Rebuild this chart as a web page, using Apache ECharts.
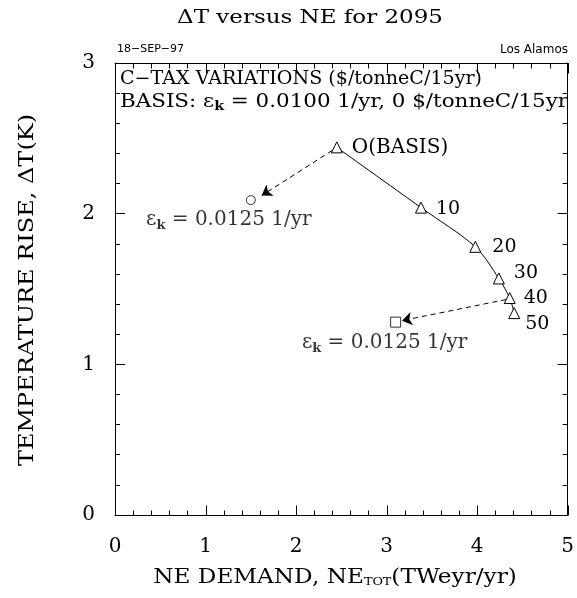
<!DOCTYPE html>
<html>
<head>
<meta charset="utf-8">
<script src="https://cdn.jsdelivr.net/npm/echarts@6/dist/echarts.min.js"></script>
<style>
  html, body { margin: 0; padding: 0; background: #fff; }
  #chart { width: 577px; height: 598px; }
</style>
</head>
<body>
<div id="chart"></div>
<script>
// Carbon-tax sweep: NE demand (x) vs temperature rise (y) for 2095
const taxLabels = ['O(BASIS)', '10', '20', '30', '40', '50'];
const taxNE = [2.45, 3.38, 3.98, 4.24, 4.36, 4.41];
const taxDT = [2.44, 2.04, 1.78, 1.57, 1.44, 1.34];

// Higher autonomous efficiency improvement cases (epsilon_k = 0.0125 1/yr)
const epsCircle = [1.50, 2.09];
const epsSquare = [3.10, 1.28];

// Dashed arrows: [from, to]
const arrowLines = [
  [[2.40, 2.42], [1.62, 2.12]],
  [[4.32, 1.43], [3.17, 1.29]]
];

// Horizontal axis tick values (major every 1, minor every 0.2)
const xMajor = [0, 1, 2, 3, 4, 5];
const xMinor = [0.2, 0.4, 0.6, 0.8, 1.2, 1.4, 1.6, 1.8, 2.2, 2.4, 2.6, 2.8,
                3.2, 3.4, 3.6, 3.8, 4.2, 4.4, 4.6, 4.8];

const SERIF = '"DejaVu Serif", serif';
const SANS = '"DejaVu Sans", sans-serif';
const epsRich = {
  m: { fontFamily: SERIF, fontSize: 20, color: '#000', lineHeight: 24 },
  k: { fontFamily: SERIF, fontSize: 13, fontWeight: 'bold', color: '#000', lineHeight: 24, verticalAlign: 'bottom', padding: [9, 0, 0, 0] }
};

const labelOffsets = [[4, 0], [4, 1], [6, 0], [4, -5], [3, 0], [0, 11]];
const labelSizes = [20, 19, 19, 19, 19, 19];

const chart = echarts.init(document.getElementById('chart'));

// Framed axis with inward major/minor ticks
function frameAxis(max, position, label, ticks) {
  return {
    type: 'value', min: 0, max: max, interval: 1, position: position,
    axisLine: { show: true, onZero: false, lineStyle: { color: '#000', width: 1 } },
    axisTick: { show: ticks, inside: true, length: 10, lineStyle: { color: '#000', width: 1 } },
    minorTick: { show: ticks, splitNumber: 5, length: 5, lineStyle: { color: '#000', width: 1 } },
    splitLine: { show: false },
    axisLabel: label || { show: false }
  };
}

// Text stretched horizontally around its anchor point
function wideText(id, x, y, text, font, sx, extra) {
  return Object.assign({
    id: id, type: 'text', x: x, y: y, scaleX: sx, scaleY: 1, originX: 0, originY: 0,
    style: { x: 0, y: 0, text: text, font: font, fill: '#000', textAlign: 'center', textVerticalAlign: 'middle' }
  }, extra || {});
}

const textGraphics = [
  wideText('title', 310, 18, 'ΔT versus NE for 2095', '19px ' + SERIF, 1.21),
  wideText('xname', 335, 578, 'NE DEMAND, NE{s|TOT}(TWeyr/yr)', '20px ' + SERIF, 1.16, {
    style: {
      x: 0, y: 0, text: 'NE DEMAND, NE{s|TOT}(TWeyr/yr)', fill: '#000',
      textAlign: 'center', textVerticalAlign: 'middle',
      font: '20px ' + SERIF,
      rich: {
        s: { fontFamily: SERIF, fontSize: 11, fill: '#000', verticalAlign: 'bottom', padding: [9, 0, 0, 0] }
      }
    }
  }),
  wideText('yname', 28, 290, 'TEMPERATURE RISE, ΔT(K)', '20px ' + SERIF, 1.2, { rotation: Math.PI / 2 }),
  { id: 'date', type: 'text', x: 117, y: 44, style: { x: 0, y: 0, text: '18−SEP−97', font: '11px ' + SANS, fill: '#000' } },
  { id: 'site', type: 'text', x: 568, y: 44, style: { x: 0, y: 0, text: 'Los Alamos', font: '12px ' + SANS, fill: '#000', textAlign: 'right' } },
  { id: 'head1', type: 'text', x: 120, y: 79, scaleX: 1.06, originX: 0, originY: 0,
    style: { x: 0, y: 0, text: 'C−TAX VARIATIONS ($/tonneC/15yr)', font: '18px ' + SERIF, fill: '#000', textVerticalAlign: 'middle' } },
  { id: 'head2', type: 'text', x: 120, y: 102, scaleX: 1.19, originX: 0, originY: 0,
    style: {
      x: 0, y: 0, text: '{m|BASIS: ε}{k|k}{m| = 0.0100 1/yr, 0 $/tonneC/15yr}', textVerticalAlign: 'middle',
      rich: {
        m: { fontFamily: SERIF, fontSize: 18, fill: '#000', lineHeight: 22 },
        k: { fontFamily: SERIF, fontSize: 12, fontWeight: 'bold', fill: '#000', lineHeight: 22, verticalAlign: 'bottom', padding: [8, 0, 0, 0] }
      }
    } }
];

chart.setOption({
  backgroundColor: '#fff',
  animation: false,
  grid: { left: 115, right: 7, top: 63, bottom: 83 },
  xAxis: [
    frameAxis(5, 'bottom', { show: true, margin: 22, color: '#000', fontFamily: SERIF, fontSize: 20 }, false),
    frameAxis(5, 'top', null, false)
  ],
  yAxis: [
    frameAxis(3, 'left', { show: true, margin: 20, color: '#000', fontFamily: SERIF, fontSize: 20 }, true),
    frameAxis(3, 'right', null, true)
  ],
  graphic: { elements: textGraphics },
  series: [
    {
      type: 'line',
      xAxisIndex: 0, yAxisIndex: 0,
      smooth: 0.3,
      symbol: 'triangle', symbolSize: 11,
      lineStyle: { color: '#000', width: 1 },
      itemStyle: { color: '#fff', borderColor: '#000', borderWidth: 1 },
      data: taxNE.map((x, i) => ({
        value: [x, taxDT[i]],
        label: { offset: labelOffsets[i], fontSize: labelSizes[i] }
      })),
      label: {
        show: true, position: 'right', distance: 5,
        fontFamily: SERIF, fontSize: 19, color: '#000',
        formatter: p => taxLabels[p.dataIndex]
      },
      z: 3
    },
    {
      type: 'scatter',
      symbol: 'circle', symbolSize: 9,
      itemStyle: { color: '#fff', borderColor: '#000', borderWidth: 1 },
      data: [epsCircle],
      label: {
        show: true, position: 'bottom', distance: 3, offset: [-22, 0],
        formatter: '{m|ε}{k|k}{m| = 0.0125 1/yr}', rich: epsRich
      },
      z: 3
    },
    {
      type: 'scatter',
      symbol: 'rect', symbolSize: 10,
      itemStyle: { color: '#fff', borderColor: '#000', borderWidth: 1 },
      data: [epsSquare],
      label: {
        show: true, position: 'bottom', distance: 3, offset: [-11, 0],
        formatter: '{m|ε}{k|k}{m| = 0.0125 1/yr}', rich: epsRich
      },
      z: 3
    },
    {
      type: 'lines',
      coordinateSystem: 'cartesian2d',
      symbol: ['none', 'arrow'], symbolSize: [0, 10],
      lineStyle: { color: '#000', width: 1, type: [5, 4], opacity: 1 },
      data: arrowLines.map(c => ({ coords: c })),
      z: 2
    }
  ]
});

// Top frame edge plus inward ticks along the top and bottom edges,
// placed through the axis scales on their own layer.
const px = v => Math.round(chart.convertToPixel({ xAxisIndex: 0 }, v)) + 0.5;
const py = v => Math.round(chart.convertToPixel({ yAxisIndex: 0 }, v)) + 0.5;
const yTop = py(3), yBot = py(0);
const frameLine = (id, x1, y1, x2, y2) => ({
  id: id, type: 'line', silent: true, zlevel: 1, z: 100,
  shape: { x1: x1, y1: y1, x2: x2, y2: y2 },
  style: { stroke: '#000', lineWidth: 1 }
});
const frameMarks = [frameLine('topEdge', px(0) - 0.5, yTop, px(5) + 0.5, yTop)];
xMajor.forEach((v, i) => {
  frameMarks.push(frameLine('tM' + i, px(v), yTop, px(v), yTop + 10));
  frameMarks.push(frameLine('bM' + i, px(v), yBot, px(v), yBot - 10));
});
xMinor.forEach((v, i) => {
  frameMarks.push(frameLine('tm' + i, px(v), yTop, px(v), yTop + 5));
  frameMarks.push(frameLine('bm' + i, px(v), yBot, px(v), yBot - 5));
});
chart.setOption({ graphic: { elements: textGraphics.concat(frameMarks) } });
</script>
</body>
</html>
